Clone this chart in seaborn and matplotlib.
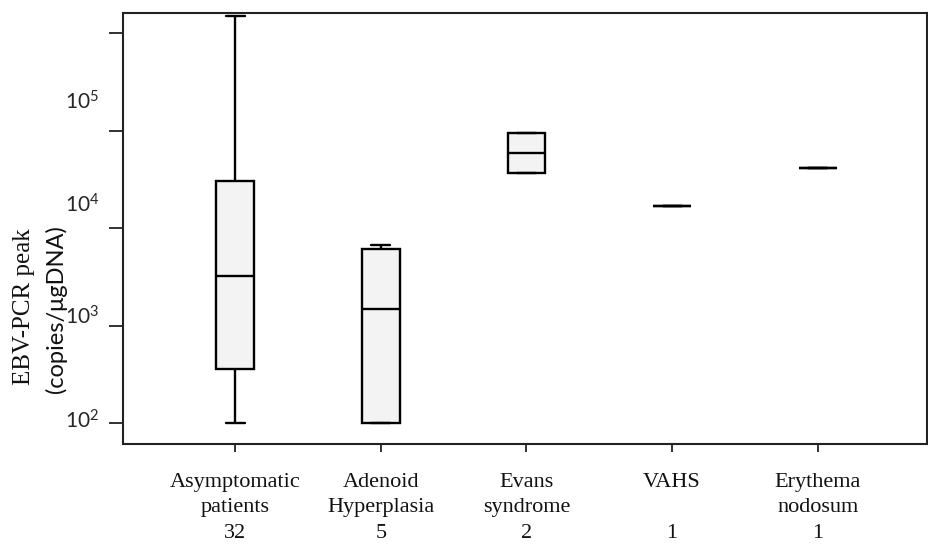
import numpy as np
import pandas as pd
import matplotlib
matplotlib.use("Agg")
import matplotlib.pyplot as plt
import seaborn as sns

# ---------- data (five-number summary per group) ----------
CATEGORIES = ["Asymptomatic\npatients", "Adenoid\nHyperplasia", "Evans\nsyndrome",
              "VAHS\n", "Erythema\nnodosum"]
COUNTS = [32, 5, 2, 1, 1]
LOWER = [100, 100, 36600, 17000, 41200]
Q1 = [358, 100, 36600, 17000, 41200]
MEDIAN = [3220, 1480, 58700, 17000, 41200]
Q3 = [30300, 6100, 94200, 17000, 41200]
UPPER = [1490000, 6700, 94200, 17000, 41200]

Y_TICKS = [1e2, 1e3, 1e4, 1e5, 1e6]
Y_LABEL_VALUES = [10 ** 2.04, 10 ** 3.11, 10 ** 4.26, 10 ** 5.31]
Y_LABELS = [r"$\mathregular{10^{2}}$", r"$\mathregular{10^{3}}$",
            r"$\mathregular{10^{4}}$", r"$\mathregular{10^{5}}$"]

x_labels = [f"{c}\n{n}" for c, n in zip(CATEGORIES, COUNTS)]

rows = []
for lab, lo, a, m, b, hi in zip(x_labels, LOWER, Q1, MEDIAN, Q3, UPPER):
    for v in (lo, a, m, b, hi):
        rows.append({"group": lab, "value": v})
df = pd.DataFrame(rows)

# ---------- style ----------
sns.set_style("ticks")
plt.rcParams["font.family"] = ["Lato", "DejaVu Sans"]
plt.rcParams["mathtext.fontset"] = "custom"
plt.rcParams["mathtext.rm"] = "Lato"

fig = plt.figure(figsize=(9.29, 5.47), dpi=100)
ax = fig.add_axes([123 / 929, 1 - 444 / 547, (927 - 123) / 929, (444 - 13) / 547])

sns.boxplot(data=df, x="group", y="value", order=x_labels, ax=ax,
            whis=(0, 100), width=0.26, color="#f3f3f3", saturation=1,
            linecolor="black", linewidth=1.7, log_scale=True)

ax.set_xlim(-0.77, 4.75)
ax.set_ylim(10 ** 1.785, 10 ** 6.205)
ax.set_xlabel("")
ax.set_ylabel("")

# decade ticks without labels, labels sit a bit off the ticks as in the original
ax.set_yticks(Y_TICKS, [""] * len(Y_TICKS))
ax.set_yticks(Y_LABEL_VALUES, Y_LABELS, minor=True)
ax.tick_params(axis="y", which="major", length=10, width=1.3, color="#222222")
ax.tick_params(axis="y", which="minor", length=0, pad=17, labelsize=15)
ax.tick_params(axis="x", length=6, width=1.3, pad=15, color="#222222")
for t in ax.get_xticklabels():
    t.set_family(["Liberation Serif", "DejaVu Serif"])
    t.set_fontsize(16)
    t.set_linespacing(1.45)
    t.set_color("#111111")

for s in ax.spines.values():
    s.set_visible(True)
    s.set_linewidth(1.5)
    s.set_color("#222222")

fig.text(24 / 929, 1 - 307 / 547, "EBV-PCR peak", rotation=90, ha="center", va="center",
         fontsize=18, family=["Liberation Serif", "DejaVu Serif"], color="#111111")
fig.text(56 / 929, 1 - 309 / 547, "(copies/μgDNA)", rotation=90, ha="center", va="center",
         fontsize=17, color="#111111")

fig.savefig("out.png", dpi=100)
